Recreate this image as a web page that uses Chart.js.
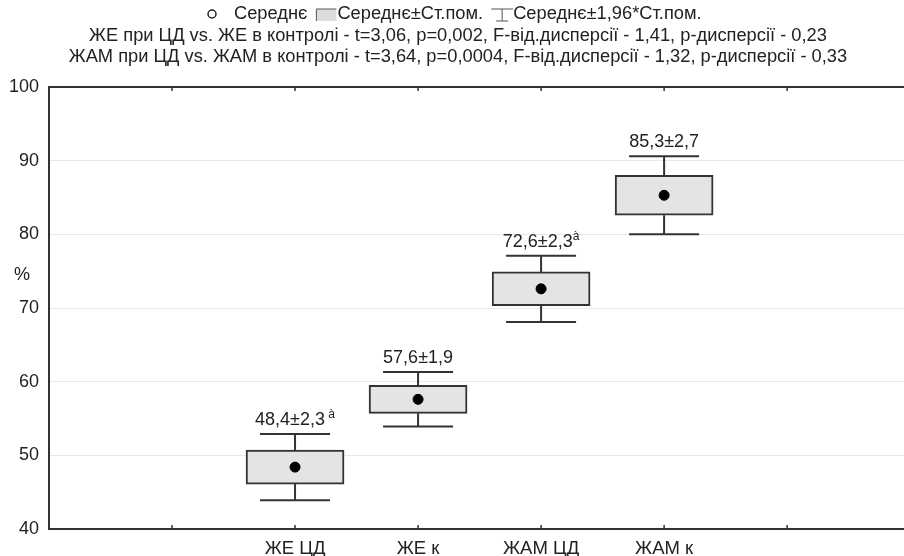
<!DOCTYPE html>
<html>
<head>
<meta charset="utf-8">
<script src="https://cdn.jsdelivr.net/npm/chart.js@4/dist/chart.umd.min.js"></script>
<style>
  body { margin: 0; background: #fff; }
  #wrap { width: 904px; height: 556px; }
</style>
</head>
<body>
<div id="wrap"><canvas id="chart"></canvas></div>
<script>
// data
const categories = ['ЖЕ ЦД', 'ЖЕ к', 'ЖАМ ЦД', 'ЖАМ к'];
const positions = [2, 3, 4, 5];
const means = [48.4, 57.6, 72.6, 85.3];
const boxLow = [46.1, 55.7, 70.3, 82.6];
const boxHigh = [50.7, 59.5, 74.9, 88.0];
const whiskerLow = [43.9, 53.9, 68.1, 80.0];
const whiskerHigh = [52.9, 61.3, 77.1, 90.6];
const valueLabels = ['48,4±2,3', '57,6±1,9', '72,6±2,3', '85,3±2,7'];
const valueMarks = [' à', '', 'à', ''];
const titleLines = [
  'ЖЕ при ЦД vs. ЖЕ в контролі - t=3,06, p=0,002, F-від.дисперсії - 1,41, p-дисперсії - 0,23',
  'ЖАМ при ЦД vs. ЖАМ в контролі - t=3,64, p=0,0004, F-від.дисперсії - 1,32, p-дисперсії - 0,33'
];
const legendTexts = ['Середнє', 'Середнє±Ст.пом.', 'Середнє±1,96*Ст.пом.'];

const FONT = '"Liberation Sans", Arial, sans-serif';
const INK = '#222';
const LINE = '#333';

const boxPlotExtras = {
  id: 'boxPlotExtras',
  beforeDatasetsDraw(chart) {
    const { ctx, scales: { x, y } } = chart;
    ctx.save();
    ctx.strokeStyle = LINE;
    ctx.lineWidth = 2;
    for (let i = 0; i < positions.length; i++) {
      const px = x.getPixelForValue(positions[i]);
      const yTop = y.getPixelForValue(whiskerHigh[i]);
      const yBot = y.getPixelForValue(whiskerLow[i]);
      ctx.beginPath();
      ctx.moveTo(px, yTop);
      ctx.lineTo(px, y.getPixelForValue(boxHigh[i]));
      ctx.moveTo(px, y.getPixelForValue(boxLow[i]));
      ctx.lineTo(px, yBot);
      ctx.moveTo(px - 35, yTop);
      ctx.lineTo(px + 35, yTop);
      ctx.moveTo(px - 35, yBot);
      ctx.lineTo(px + 35, yBot);
      ctx.stroke();
    }
    ctx.restore();
  },
  afterDraw(chart) {
    const { ctx, chartArea: area, scales: { x, y } } = chart;
    ctx.save();

    // top frame line and small inside ticks
    ctx.strokeStyle = LINE;
    ctx.lineWidth = 2;
    ctx.beginPath();
    ctx.moveTo(area.left - 1, area.top);
    ctx.lineTo(area.right, area.top);
    ctx.stroke();
    ctx.lineWidth = 1.5;
    ctx.beginPath();
    for (let v = 1; v <= 6; v++) {
      const px = x.getPixelForValue(v);
      ctx.moveTo(px, area.top);
      ctx.lineTo(px, area.top + 4);
      ctx.moveTo(px, area.bottom);
      ctx.lineTo(px, area.bottom - 4);
    }
    ctx.stroke();

    // value labels above the whiskers
    ctx.fillStyle = INK;
    ctx.textBaseline = 'alphabetic';
    for (let i = 0; i < positions.length; i++) {
      const px = x.getPixelForValue(positions[i]);
      const py = y.getPixelForValue(whiskerHigh[i]) - 9;
      ctx.font = '18px ' + FONT;
      const w1 = ctx.measureText(valueLabels[i]).width;
      ctx.font = '12px ' + FONT;
      const w2 = ctx.measureText(valueMarks[i]).width;
      const start = px - (w1 + w2) / 2;
      ctx.textAlign = 'left';
      ctx.font = '18px ' + FONT;
      ctx.fillText(valueLabels[i], start, py);
      ctx.font = '12px ' + FONT;
      ctx.fillText(valueMarks[i], start + w1, py - 7);
    }

    // y axis title
    ctx.font = '18px ' + FONT;
    ctx.textAlign = 'center';
    ctx.textBaseline = 'middle';
    ctx.fillText('%', 22, 275);

    // title lines
    ctx.font = '18.3px ' + FONT;
    ctx.fillText(titleLines[0], 458, 36);
    ctx.fillText(titleLines[1], 458, 57);

    // legend line
    const ly = 14;
    ctx.textAlign = 'left';
    let lx = 208;
    ctx.lineWidth = 1.5;
    ctx.strokeStyle = INK;
    ctx.beginPath();
    ctx.arc(lx + 4, ly, 4, 0, Math.PI * 2);
    ctx.stroke();
    lx += 26;
    ctx.fillText(legendTexts[0], lx, ly);
    lx += ctx.measureText(legendTexts[0]).width + 9;
    ctx.fillStyle = '#dcdcdc';
    ctx.fillRect(lx, ly - 5, 20, 12);
    ctx.strokeStyle = '#555';
    ctx.lineWidth = 1;
    ctx.beginPath();
    ctx.moveTo(lx, ly + 7);
    ctx.lineTo(lx, ly - 5);
    ctx.lineTo(lx + 20, ly - 5);
    ctx.stroke();
    lx += 21;
    ctx.fillStyle = INK;
    ctx.fillText(legendTexts[1], lx, ly);
    lx += ctx.measureText(legendTexts[1]).width + 8;
    ctx.beginPath();
    ctx.moveTo(lx, ly - 5);
    ctx.lineTo(lx + 22, ly - 5);
    ctx.moveTo(lx + 11, ly - 5);
    ctx.lineTo(lx + 11, ly + 7);
    ctx.moveTo(lx + 5, ly + 7);
    ctx.lineTo(lx + 17, ly + 7);
    ctx.stroke();
    lx += 22;
    ctx.fillText(legendTexts[2], lx, ly);

    ctx.restore();
  }
};

const config = {
  type: 'bar',
  data: {
    datasets: [
      {
        type: 'bar',
        data: positions.map((p, i) => ({ x: p, y: [boxLow[i], boxHigh[i]] })),
        backgroundColor: '#e4e4e4',
        borderColor: LINE,
        borderWidth: 2,
        borderSkipped: false,
        barThickness: 98,
        order: 2
      },
      {
        type: 'scatter',
        data: positions.map((p, i) => ({ x: p, y: means[i] })),
        pointRadius: 5,
        pointBackgroundColor: '#000',
        pointBorderColor: '#000',
        order: 1
      }
    ]
  },
  options: {
    responsive: true,
    maintainAspectRatio: false,
    animation: false,
    layout: { autoPadding: false, padding: { top: 87, left: 0, right: 0, bottom: 0 } },
    plugins: {
      legend: { display: false },
      title: { display: false },
      tooltip: { enabled: false }
    },
    scales: {
      x: {
        type: 'linear',
        offset: false,
        min: 0,
        max: 6.95,
        afterFit: scale => { scale.height = 27; },
        afterBuildTicks: scale => {
          scale.ticks = [1, 2, 3, 4, 5, 6].map(v => ({ value: v }));
        },
        ticks: {
          autoSkip: false,
          maxRotation: 0,
          padding: 9,
          color: INK,
          font: { size: 18.5, family: FONT },
          callback: v => {
            const i = positions.indexOf(v);
            return i >= 0 ? categories[i] : '';
          }
        },
        grid: { display: false, drawTicks: false },
        border: { display: true, color: LINE, width: 2 }
      },
      y: {
        min: 40,
        max: 100,
        afterFit: scale => { scale.width = 49; },
        ticks: {
          stepSize: 10,
          padding: 10,
          color: INK,
          font: { size: 18, family: FONT }
        },
        grid: { color: '#e8e8e8', lineWidth: 1, drawTicks: false },
        border: { display: true, color: LINE, width: 2 }
      }
    }
  },
  plugins: [boxPlotExtras]
};

new Chart(document.getElementById('chart'), config);
</script>
</body>
</html>
